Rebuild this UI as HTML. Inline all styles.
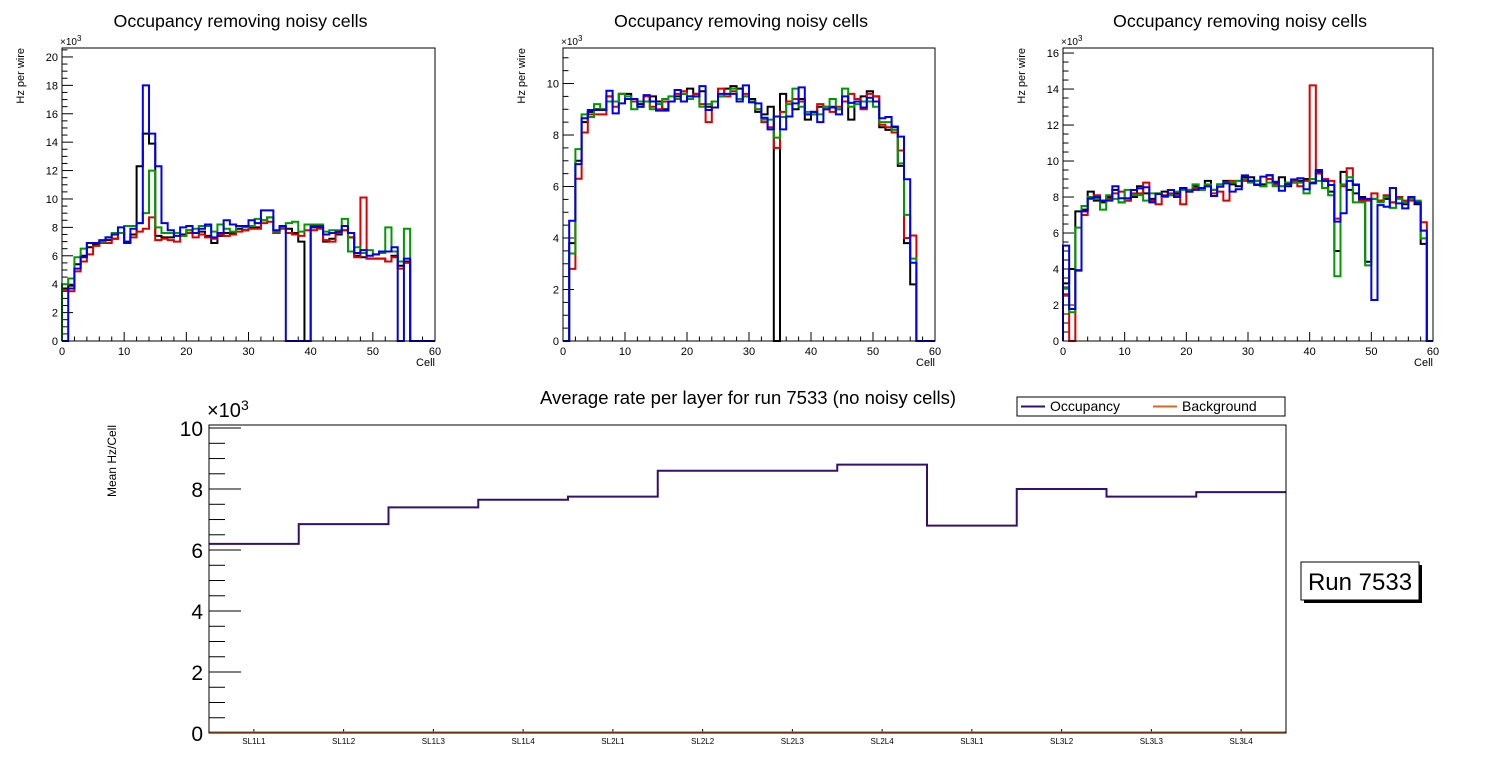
<!DOCTYPE html>
<html><head><meta charset="utf-8">
<style>
html,body{margin:0;padding:0;background:#fff;}
svg{display:block;font-family:"Liberation Sans",sans-serif;}
</style></head>
<body>
<svg id="c" width="1496" height="772" viewBox="0 0 1496 772" xmlns="http://www.w3.org/2000/svg"></svg>
<script>
// ---- data: top pads (k Hz per wire, 60 cells) ----
const cells = 60;
const p1Black = [3.7,3.9,5.4,6.0,6.6,6.8,7.0,7.1,7.2,7.6,7.0,7.5,12.3,14.6,13.9,7.4,7.3,7.3,7.6,7.5,7.8,7.6,7.7,7.4,6.9,7.4,7.6,7.6,7.9,7.8,8.0,8.0,8.5,8.7,7.6,8.0,7.9,7.6,7.0,0,8.0,8.0,7.0,7.2,7.5,7.8,7.3,6.0,5.9,5.8,5.8,5.8,5.6,6.0,5.3,5.6,0,0,0,0];
const p1Red = [3.6,3.5,4.9,5.6,6.1,6.7,6.9,6.9,7.2,7.6,6.9,7.3,7.7,7.9,8.7,7.1,7.2,7.1,7.0,7.4,7.6,7.3,7.5,7.3,7.2,7.5,7.4,7.5,7.7,7.8,7.9,7.9,8.3,8.4,7.6,7.9,7.6,7.5,7.4,7.8,7.8,7.9,7.1,7.0,7.6,7.8,7.3,5.9,10.1,5.8,5.8,5.8,5.6,5.9,5.1,5.5,0,0,0,0];
const p1Green = [4.0,4.4,5.9,6.5,6.9,6.9,7.0,7.3,7.6,7.6,8.1,8.1,8.3,9.0,12.0,8.0,7.6,7.6,7.6,7.4,7.8,7.9,8.1,8.1,7.7,8.2,7.9,7.7,8.1,8.0,8.1,8.6,8.5,8.7,7.7,8.0,8.3,8.4,7.7,8.2,8.2,8.2,7.7,7.8,7.8,8.6,6.3,6.6,6.2,6.4,6.1,6.2,8.0,6.3,5.6,7.9,0,0,0,0];
const p1Blue = [0,3.7,5.1,5.9,6.9,6.9,7.1,7.3,7.5,8.0,6.9,7.9,8.3,18.0,14.6,12.3,8.3,7.8,7.4,8.0,8.1,7.6,7.9,8.2,7.3,7.6,8.5,8.2,8.1,8.1,8.5,8.3,9.2,9.2,7.8,8.1,0,0,0,0,8.1,8.1,7.5,7.6,7.7,8.1,7.6,6.2,6.4,6.0,6.1,6.3,6.3,6.6,0,5.8,0,0,0,0];

const p2Black = [0,3.8,7.0,8.5,8.9,9.0,9.0,9.5,9.3,9.6,9.6,9.4,9.2,9.3,9.5,9.3,9.0,9.3,9.5,9.6,9.8,9.6,9.7,9.1,9.3,9.5,9.8,9.9,9.8,9.5,9.4,8.9,8.8,9.1,0,9.6,9.3,9.0,9.4,8.6,8.9,9.1,9.1,9.1,9.0,9.3,8.6,9.3,9.5,9.7,9.5,8.3,8.2,8.3,6.8,3.8,2.2,0,0,0];
const p2Red = [0,2.8,6.3,8.1,8.8,8.8,8.8,9.5,9.1,9.6,9.4,9.3,9.1,9.5,9.1,9.0,9.3,9.3,9.6,9.7,9.5,9.6,9.2,8.5,9.3,9.8,9.5,9.7,9.4,9.6,9.3,9.0,8.5,8.3,7.5,8.9,9.3,9.4,9.3,8.8,8.8,9.2,9.0,8.9,9.1,9.3,9.6,9.4,9.0,9.6,9.5,8.4,8.3,8.1,7.4,4.0,4.1,0,0,0];
const p2Green = [0,3.4,7.45,8.8,8.7,9.2,9.0,9.3,9.3,9.6,9.5,9.0,9.3,9.3,9.0,9.2,9.4,9.5,9.4,9.6,9.4,9.5,9.1,9.2,9.3,9.5,9.6,9.8,9.4,9.5,9.3,9.0,8.6,8.6,7.9,8.7,9.2,9.8,9.1,8.9,8.8,8.8,9.1,9.4,9.0,9.8,9.1,9.2,9.3,9.3,9.1,8.5,8.5,8.2,6.9,4.9,3.2,0,0,0];
const p2Blue = [0,4.67,6.87,8.65,8.97,8.97,8.97,9.72,8.84,9.23,9.4,9.4,9.1,9.55,9.3,8.95,8.95,9.3,9.75,9.3,9.5,9.5,9.9,8.97,9.07,9.6,9.6,9.6,9.3,9.93,9.27,9.23,8.67,8.22,8.72,8.22,8.72,9.23,9.85,8.8,8.9,8.5,9.0,9.07,8.8,9.5,9.25,9.3,9.07,9.45,9.3,8.65,8.7,8.33,7.94,6.28,3.04,0,0,0];

const p3Black = [3.2,4.0,7.2,7.3,8.3,7.8,7.7,8.0,8.4,7.7,7.8,8.0,8.6,8.2,7.9,8.2,8.3,8.1,8.2,8.5,8.3,8.6,8.5,8.9,8.4,8.7,8.9,8.7,8.6,9.1,9.1,8.9,8.7,9.2,8.8,9.1,8.6,8.8,8.9,9.0,8.8,9.4,8.9,8.3,5.0,9.4,8.4,8.2,8.0,4.4,7.9,7.8,7.9,7.7,8.0,7.6,7.9,7.6,5.4,0];
const p3Red = [2.6,0,3.9,7.0,7.9,8.1,7.8,7.9,8.2,8.3,7.8,8.2,8.2,8.8,7.8,7.6,8.1,8.2,8.1,7.6,8.4,8.5,8.4,8.6,8.2,8.3,7.8,8.9,8.9,8.9,8.9,8.7,8.6,9.0,8.7,8.6,8.8,8.9,8.6,8.9,14.2,9.3,9.0,8.9,6.8,8.6,9.6,8.7,7.8,7.8,8.2,7.8,8.1,7.7,8.0,7.8,7.8,7.7,6.6,0];
const p3Green = [2.9,1.6,6.3,7.5,8.0,7.9,7.3,8.1,7.9,7.7,8.4,8.1,8.1,7.8,8.2,8.2,8.0,8.1,8.3,8.4,8.4,8.7,8.4,8.7,8.4,8.7,8.8,8.8,8.9,9.0,8.8,8.9,8.6,8.8,8.6,8.6,8.8,8.8,8.8,8.2,9.0,8.9,8.5,8.1,3.6,8.7,9.1,7.7,7.7,4.2,7.9,7.7,8.0,7.4,7.9,7.7,7.9,7.8,5.7,0];
const p3Blue = [5.3,1.78,3.94,7.2,7.93,8.0,7.8,7.8,8.6,7.93,7.93,8.39,8.48,8.54,7.7,8.17,8.06,8.39,8.0,8.48,8.3,8.4,8.5,8.6,8.06,8.57,8.76,8.3,8.43,9.2,8.9,8.67,9.13,9.22,8.85,8.35,8.72,8.98,9.04,8.43,8.76,9.5,8.9,8.67,6.63,7.1,8.9,8.67,7.9,7.9,2.28,7.55,7.46,8.5,7.65,7.37,8.0,7.7,6.13,0];

// ---- data: bottom chart ----
const layers = ["SL1L1","SL1L2","SL1L3","SL1L4","SL2L1","SL2L2","SL2L3","SL2L4","SL3L1","SL3L2","SL3L3","SL3L4"];
const occupancy = [6.2,6.85,7.4,7.65,7.75,8.6,8.6,8.8,6.8,8.0,7.75,7.9];
const background = [0.02,0.02,0.02,0.02,0.02,0.02,0.02,0.02,0.02,0.02,0.02,0.02];
const bottomYTicks = [0,2,4,6,8,10];
const topXTicks = [0,10,20,30,40,50,60];

const NS="http://www.w3.org/2000/svg";
const svg=document.getElementById('c');
function mk(tag,attrs,parent){const e=document.createElementNS(NS,tag);for(const k in attrs)e.setAttribute(k,attrs[k]);(parent||svg).appendChild(e);return e;}

function pad(cfg){
  const g=mk('g',{});
  
  
  const {x0,x1,y0,y1,ymax}=cfg;
  const sx=v=>x0+(x1-x0)*v/cells;
  const sy=v=>y1-(y1-y0)*v/ymax;
  const t=mk('text',{x:(x0+x1)/2-8,y:27,'font-size':17.8,'text-anchor':'middle'},g);
  t.textContent='Occupancy removing noisy cells';
  
  
  for(let v=0;v<=ymax;v+=0.5){
    const major=Math.abs(v/2-Math.round(v/2))<1e-6;
    const y=sy(v);
    mk('line',{x1:x0,x2:x0+(major?11:5.5),y1:y,y2:y,stroke:'#000','stroke-width':1},g);
    if(major){
      const l=mk('text',{x:x0-4,y:y+4,'font-size':11,'text-anchor':'end'},g);
      l.textContent=String(Math.round(v));
      
      
    }
  }
  for(let v=0;v<=cells;v+=2){
    const major=v%10===0;const x=sx(v);
    mk('line',{x1:x,x2:x,y1:y1,y2:y1-(major?9:4.5),stroke:'#000','stroke-width':1},g);
  }
  topXTicks.forEach(v=>{
    const l=mk('text',{x:sx(v),y:y1+14,'font-size':11,'text-anchor':'middle'},g);
    l.textContent=String(v);
    
    
  });
  const xl=mk('text',{x:x1,y:y1+25,'font-size':11,'text-anchor':'end'},g);
  xl.textContent='Cell';
  
  
  const yl=mk('text',{x:0,y:0,'font-size':11,'text-anchor':'end',transform:`translate(${x0-38},${y0}) rotate(-90)`},g);
  yl.textContent='Hz per wire';
  
  
  const ex=mk('text',{x:x0-2,y:y0-3,'font-size':10},g);
  ex.innerHTML='×10<tspan dy="-4" font-size="8">3</tspan>';
  
  
  cfg.series.forEach(s=>{
    let d=`M${sx(0)},${sy(0)}`;
    s.data.forEach((v,i)=>{d+=` L${sx(i)},${sy(v)} L${sx(i+1)},${sy(v)}`;});
    d+=` L${sx(cells)},${sy(0)}`;
    const p=mk('path',{d:d,fill:'none',stroke:s.color,'stroke-width':2},g);
    
    
  });
  const f=mk('rect',{x:x0,y:y0,width:x1-x0,height:y1-y0,fill:'none',stroke:'#000','stroke-width':1},g);
  
  
}
const C={k:'#000000',r:'#dd0000',g:'#009900',b:'#0000ee'};
pad({name:'pad-1',x0:62,x1:435,y0:48,y1:341,ymax:20.63,series:[{name:'layer1-series',color:C.k,data:p1Black},{name:'layer2-series',color:C.r,data:p1Red},{name:'layer3-series',color:C.g,data:p1Green},{name:'layer4-series',color:C.b,data:p1Blue}]});
pad({name:'pad-2',x0:563,x1:935,y0:48,y1:341,ymax:11.38,series:[{name:'layer1-series',color:C.k,data:p2Black},{name:'layer2-series',color:C.r,data:p2Red},{name:'layer3-series',color:C.g,data:p2Green},{name:'layer4-series',color:C.b,data:p2Blue}]});
pad({name:'pad-3',x0:1063,x1:1433,y0:48,y1:341,ymax:16.28,series:[{name:'layer1-series',color:C.k,data:p3Black},{name:'layer2-series',color:C.r,data:p3Red},{name:'layer3-series',color:C.g,data:p3Green},{name:'layer4-series',color:C.b,data:p3Blue}]});

// ---- bottom chart ----
(function(){
  const g=mk('g',{});
  
  
  const x0=209,x1=1286,y0=425,y1=733,ymax=10.1;
  const n=layers.length,bw=(x1-x0)/n;
  const sx=i=>x0+bw*i;
  const sy=v=>y1-(y1-y0)*v/ymax;
  const t=mk('text',{x:748,y:404,'font-size':18.5,'text-anchor':'middle'},g);
  t.textContent='Average rate per layer for run 7533 (no noisy cells)';
  
  
  for(let v=0;v<=ymax+1e-6;v+=0.5){
    const major=Math.abs(v/2-Math.round(v/2))<1e-6;const y=sy(v);
    mk('line',{x1:x0,x2:x0+(major?32:16),y1:y,y2:y,stroke:'#000','stroke-width':1},g);
  }
  bottomYTicks.forEach(v=>{
    const l=mk('text',{x:x0-6,y:sy(v)+8,'font-size':21,'text-anchor':'end'},g);
    l.textContent=String(v);
    
    
  });
  const ex=mk('text',{x:x0-2,y:y0-8,'font-size':20},g);
  ex.innerHTML='×10<tspan dy="-7" font-size="14">3</tspan>';
  
  
  const yl=mk('text',{x:0,y:0,'font-size':12,'text-anchor':'end',transform:`translate(116,${y0}) rotate(-90)`},g);
  yl.textContent='Mean Hz/Cell';
  
  
  layers.forEach((lab,i)=>{
    const l=mk('text',{x:sx(i)+bw/2,y:y1+11,'font-size':8,'text-anchor':'middle'},g);
    l.textContent=lab;
    
    
    mk('line',{x1:sx(i)+bw/2,x2:sx(i)+bw/2,y1:y1,y2:y1-4,stroke:'#000','stroke-width':1},g);
  });
  function step(data,color,name){
    let d='';
    data.forEach((v,i)=>{d+=(i===0?'M':' L')+`${sx(i)},${sy(v)} L${sx(i+1)},${sy(v)}`;});
    const p=mk('path',{d:d,fill:'none',stroke:color,'stroke-width':2},g);
    
    
  }
  step(background,'#d2691e','background-series');
  step(occupancy,'#33106e','occupancy-series');
  const f=mk('rect',{x:x0,y:y0,width:x1-x0,height:y1-y0,fill:'none',stroke:'#000','stroke-width':1},g);
  
  
  const lg=mk('g',{},g);
  
  
  mk('rect',{x:1017,y:397,width:268,height:19,fill:'#fff',stroke:'#000','stroke-width':1},lg);
  mk('line',{x1:1021,x2:1045,y1:406.5,y2:406.5,stroke:'#33106e','stroke-width':2},lg);
  const l1=mk('text',{x:1050,y:411,'font-size':14},lg);l1.textContent='Occupancy';
  
  
  mk('line',{x1:1153,x2:1177,y1:406.5,y2:406.5,stroke:'#d2691e','stroke-width':2},lg);
  const l2=mk('text',{x:1182,y:411,'font-size':14},lg);l2.textContent='Background';
  
  
  const rb=mk('g',{});
  
  
  mk('rect',{x:1304,y:565,width:118,height:38,fill:'#000'},rb);
  mk('rect',{x:1301,y:562,width:118,height:38,fill:'#fff',stroke:'#000','stroke-width':1},rb);
  const rt=mk('text',{x:1360,y:590,'font-size':24,'text-anchor':'middle'},rb);
  rt.textContent='Run 7533';
})();
</script>
</body></html>
